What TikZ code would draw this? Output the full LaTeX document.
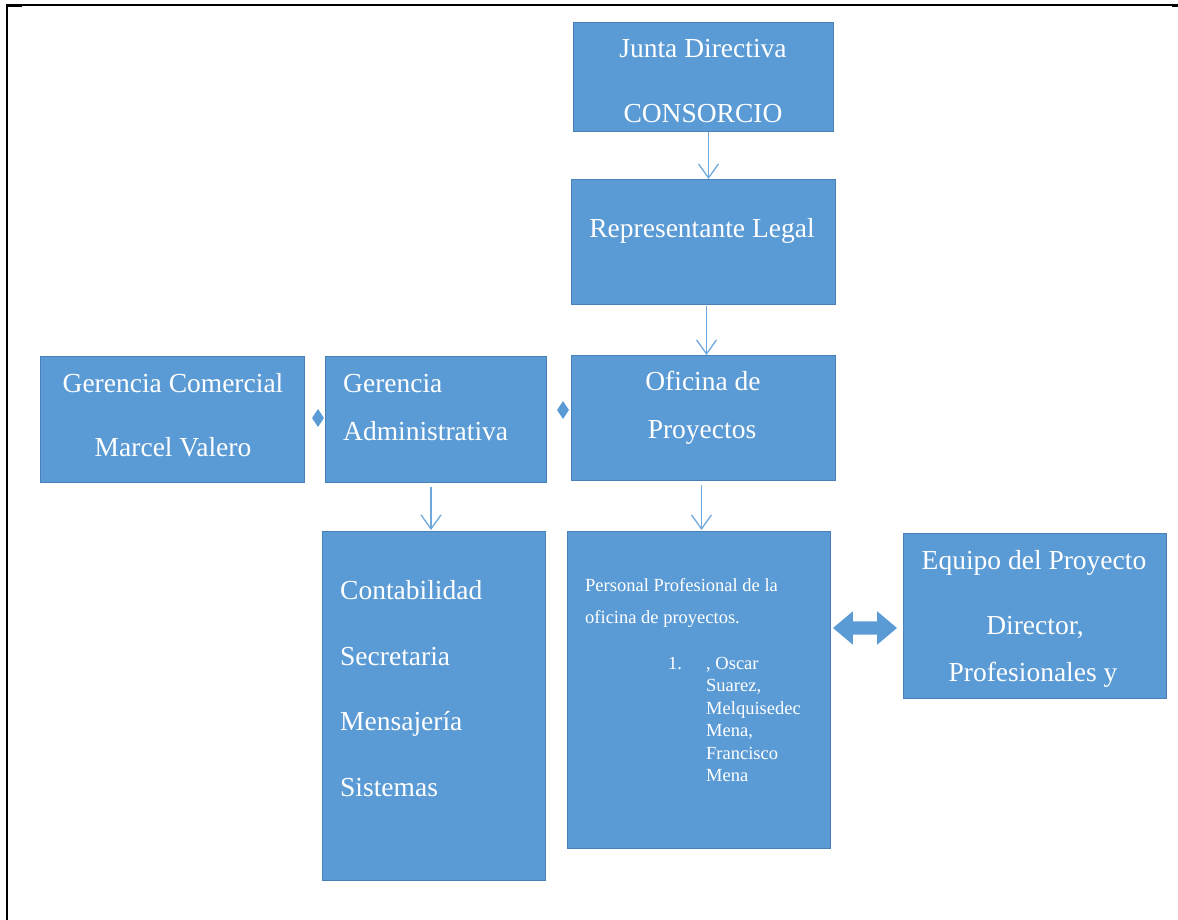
\documentclass[tikz,border=0pt]{standalone}
\usepackage{fontspec}
\setmainfont{Liberation Serif}
\usetikzlibrary{positioning,arrows.meta,shapes.arrows,shapes.geometric}
\definecolor{boxblue}{HTML}{5B9BD5}
\definecolor{boxline}{HTML}{4A80B8}
\definecolor{linkblue}{HTML}{6FA8DC}
\tikzset{
  unit/.style={draw=boxline, fill=boxblue, line width=1pt, anchor=north west, inner sep=0pt},
  boxtext/.style={text=white, inner sep=0pt, text height=19pt, text depth=0pt,
    font=\fontsize{27.5}{32}\selectfont},
  smalltext/.style={text=white, inner sep=0pt, text height=12pt, text depth=0pt,
    font=\fontsize{18.5}{22}\selectfont},
  link/.style={draw=linkblue, line width=1.3pt, -{Straight Barb[length=14pt,width=20pt]}},
  joint/.style={diamond, fill=boxblue, minimum width=12pt, minimum height=18pt, inner sep=0pt}
}
\begin{document}
\begin{tikzpicture}[x=1pt, y=-1pt]
    \useasboundingbox (0,0) rectangle (1178,920);
    % frame
    \draw[line width=1.5pt] (1178,5) -- (7,5) -- (7,920);
    \draw[line width=3pt] (7,5.5) -- (22,5.5);
    \draw[line width=3pt] (1172,6) -- (1178,6);

    % boxes
    \node[unit, minimum width=260pt, minimum height=109pt] (junta)    at (573,22)  {};
    \node[unit, minimum width=264pt, minimum height=125pt] (replegal) at (571,179) {};
    \node[unit, minimum width=264pt, minimum height=125pt] (oficina)  at (571,355) {};
    \node[unit, minimum width=221pt, minimum height=126pt] (geradmin) at (325,356) {};
    \node[unit, minimum width=264pt, minimum height=126pt] (gercom)   at (40,356)  {};
    \node[unit, minimum width=223pt, minimum height=349pt] (apoyo)    at (322,531) {};
    \node[unit, minimum width=263pt, minimum height=317pt] (personal) at (567,531) {};
    \node[unit, minimum width=263pt, minimum height=165pt] (equipo)   at (903,533) {};

    % texts
    \node[boxtext] (juntaA) at (703,48)  {Junta Directiva};
    \node[boxtext] (juntaB) at (703,113) {CONSORCIO};
    \node[boxtext] (repA)   at (702,228) {Representante Legal};
    \node[boxtext] (ofiA)   at (703,381) {Oficina de};
    \node[boxtext] (ofiB)   at (702,429) {Proyectos};
    \node[boxtext, anchor=west] (admA) at (343,383) {Gerencia};
    \node[boxtext, anchor=west] (admB) at (343,431) {Administrativa};
    \node[boxtext] (comA)   at (173,383) {Gerencia Comercial};
    \node[boxtext] (comB)   at (173,447) {Marcel Valero};
    \node[boxtext] (eqA)    at (1034,560) {Equipo del Proyecto};
    \node[boxtext] (eqB)    at (1035,625) {Director,};
    \node[boxtext] (eqC)    at (1033,672) {Profesionales y};
    \foreach \area [count=\i] in {Contabilidad,Secretaria,Mensajería,Sistemas}
      \node[boxtext, anchor=west] (area\i) at (340,{524.3+65.7*\i}) {\area};
    \node[smalltext, anchor=west] (perA) at (585,585) {Personal Profesional de la};
    \node[smalltext, anchor=west] (perB) at (585,617) {oficina de proyectos.};
    \node[smalltext, anchor=west] (num1) at (668,663) {1.};
    \foreach \who [count=\i] in {{, Oscar},{Suarez,},Melquisedec,{Mena,},Francisco,Mena}
      \node[smalltext, anchor=west] (staff\i) at (706,{640.5+22.5*\i}) {\who};

    % connectors
    \draw[link] ([xshift=5pt]junta.south) -- ([xshift=5pt]replegal.north);
    \draw[link] ([xshift=3pt,yshift=-1pt]replegal.south) -- ([xshift=3pt]oficina.north);
    \draw[link] ([xshift=-2pt,yshift=-4pt]oficina.south) -- ([xshift=-2pt,yshift=1pt]oficina.south |- personal.north);
    \draw[link] ([xshift=-5pt,yshift=-4pt]geradmin.south) -- ([xshift=-5pt,yshift=1pt]geradmin.south |- apoyo.north);

    \node[joint] (jointA) at (318,418) {};
    \node[joint] (jointB) at (563,410) {};

    \node[double arrow, fill=boxblue, inner xsep=0pt, inner ysep=6.5pt, minimum height=64pt,
      double arrow head extend=10pt, double arrow tip angle=80] (swap) at (865,628) {};
\end{tikzpicture}
\end{document}
